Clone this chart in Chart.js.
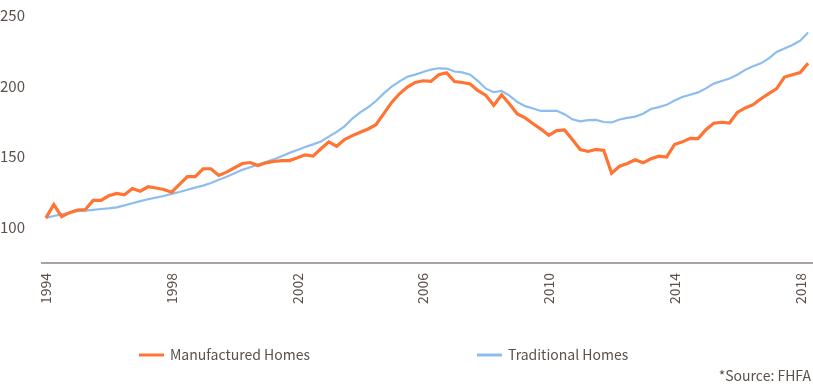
<!DOCTYPE html>
<html>
<head>
<meta charset="utf-8">
<script src="https://cdn.jsdelivr.net/npm/chart.js@4.4.1/dist/chart.umd.min.js"></script>
<style>
  body { margin: 0; background: #fff; }
  #wrap { width: 813px; height: 384px; position: relative; }
</style>
</head>
<body>
<div id="wrap"><canvas id="hpiChart"></canvas></div>
<script>
// Quarterly price index, 1994 Q1 .. 2018 Q2
const tickYears = ['1994', '1998', '2002', '2006', '2010', '2014', '2018'];

const manufactured = [
    106.8, 116.2, 107.7, 110.5, 112.4, 112.6, 119.2, 119.2, 122.4, 124.1,
    123.1, 127.5, 125.7, 128.8, 127.9, 126.9, 125.0, 130.5, 135.9, 135.9,
    141.5, 141.5, 136.8, 139.1, 142.2, 145.2, 145.9, 143.8, 145.7, 146.6,
    147.3, 147.3, 149.2, 151.3, 150.4, 155.6, 160.5, 157.4, 162.1, 164.9,
    167.2, 169.6, 172.6, 180.4, 188.3, 194.4, 199.2, 202.4, 203.6, 203.1,
    207.8, 209.2, 203.1, 202.4, 201.3, 196.6, 193.2, 186.2, 193.7, 187.2,
    180.2, 177.4, 173.3, 169.5, 165.1, 168.4, 168.9, 162.1, 155.1, 153.7,
    155.1, 154.4, 138.4, 143.3, 145.2, 147.8, 145.7, 148.5, 150.4, 149.7,
    158.6, 160.5, 163.0, 162.8, 169.1, 173.6, 174.3, 173.8, 181.3, 184.4,
    186.7, 190.9, 194.5, 198.0, 206.2, 207.8, 209.4, 216.0
];

const traditional = [
    106.8, 108.2, 109.3, 110.4, 111.5, 112.0, 112.5, 113.1, 113.6, 114.3,
    115.7, 117.2, 118.7, 120.0, 121.1, 122.3, 123.8, 125.1, 126.7, 128.2,
    129.6, 131.5, 133.7, 135.8, 138.3, 140.8, 142.6, 144.4, 146.2, 148.1,
    150.4, 152.7, 154.8, 156.8, 158.7, 160.8, 164.2, 167.5, 171.4, 176.9,
    181.3, 184.9, 189.3, 194.7, 199.5, 203.2, 206.4, 207.9, 209.8, 211.5,
    212.4, 212.2, 210.1, 209.5, 207.9, 203.4, 198.0, 195.5, 196.4, 193.1,
    188.6, 185.7, 184.0, 182.3, 182.4, 182.4, 180.0, 176.4, 175.0, 175.8,
    176.0, 174.5, 174.2, 176.3, 177.4, 178.3, 180.3, 183.7, 185.0, 186.6,
    189.6, 192.1, 193.7, 195.4, 198.2, 201.6, 203.4, 205.2, 207.8, 211.3,
    213.9, 215.9, 219.4, 223.9, 226.4, 228.8, 231.9, 237.6
];

// categorias trimestrais (1994 Q1 ... 2018 Q2)
const quarters = [];
for (let y = 1994; y <= 2018; y++) {
    for (let q = 1; q <= 4; q++) quarters.push(y + ' Q' + q);
}
quarters.length = manufactured.length;

const yTicks = [100, 150, 200, 250];
const sourceNote = '*Source: FHFA';

const textColor = '#5b504b';
const fontFamily = '"Noto Sans CJK KR", "Noto Sans", sans-serif';

// legenda desenhada em baixo + nota da fonte
const bottomNotes = {
    id: 'bottomNotes',
    afterDraw(chart) {
        const ctx = chart.ctx;
        const legendX = [139, 477];
        const legendY = 355;
        ctx.save();
        ctx.font = '14px ' + fontFamily;
        ctx.textBaseline = 'middle';
        chart.data.datasets.forEach((ds, i) => {
            const x = legendX[i];
            ctx.strokeStyle = ds.borderColor;
            ctx.lineWidth = 3;
            ctx.beginPath();
            ctx.moveTo(x, legendY);
            ctx.lineTo(x + 25, legendY);
            ctx.stroke();
            ctx.fillStyle = textColor;
            ctx.textAlign = 'left';
            ctx.fillText(ds.label, x + 31, legendY);
        });
        ctx.textAlign = 'right';
        ctx.fillText(sourceNote, 811, 376);
        ctx.restore();
    }
};

const ctx = document.getElementById('hpiChart').getContext('2d');
new Chart(ctx, {
    type: 'line',
    data: {
        labels: quarters,
        datasets: [{
            label: 'Manufactured Homes',
            data: manufactured,
            borderColor: '#ff7433',
            borderWidth: 3.2,
            pointRadius: 0,
            tension: 0,
            fill: false
        }, {
            label: 'Traditional Homes',
            data: traditional,
            borderColor: '#8dbdef',
            borderWidth: 2.2,
            pointRadius: 0,
            tension: 0,
            fill: false
        }]
    },
    options: {
        responsive: true,
        maintainAspectRatio: false,
        animation: false,
        layout: {
            padding: { top: 15, right: 1, bottom: 71, left: 0 }
        },
        plugins: {
            legend: { display: false },
            tooltip: { enabled: false }
        },
        scales: {
            x: {
                type: 'category',
                offset: true,
                grid: { display: false, drawTicks: false },
                border: { display: true, color: '#a9a29e', width: 2 },
                ticks: {
                    autoSkip: false,
                    minRotation: 90,
                    maxRotation: 90,
                    padding: 10,
                    color: textColor,
                    font: { family: fontFamily, size: 14 },
                    callback: function(value) {
                        const parts = this.getLabelForValue(value).split(' ');
                        return (parts[1] === 'Q1' && tickYears.includes(parts[0])) ? parts[0] : '';
                    }
                },
                afterFit: scale => {
                    scale.height = 50;
                    // sem margem extra para os rótulos rodados
                    scale.paddingLeft = 0;
                    scale.paddingRight = 0;
                }
            },
            y: {
                min: 75,
                max: 250,
                grid: { display: false, drawTicks: false },
                border: { display: false },
                afterBuildTicks: scale => {
                    scale.ticks = yTicks.map(v => ({ value: v }));
                },
                ticks: {
                    crossAlign: 'far',
                    color: textColor,
                    font: { family: fontFamily, size: 15 }
                },
                afterFit: scale => { scale.width = 42; }
            }
        }
    },
    plugins: [bottomNotes]
});
</script>
</body>
</html>
